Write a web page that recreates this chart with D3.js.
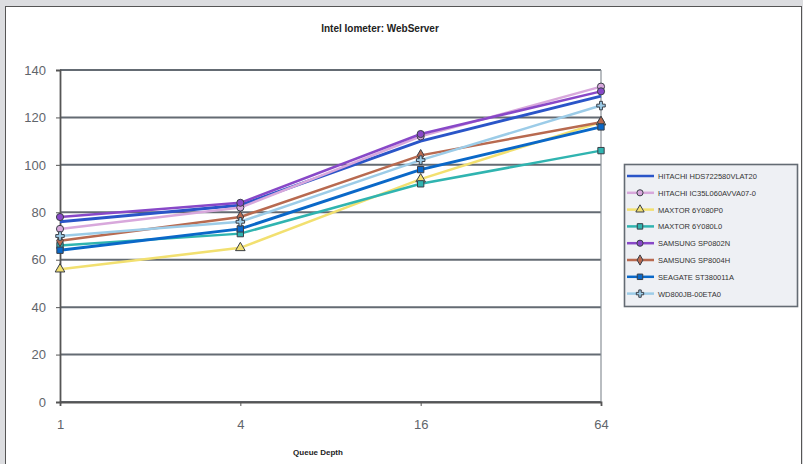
<!DOCTYPE html>
<html>
<head>
<meta charset="utf-8">
<script src="https://cdn.jsdelivr.net/npm/d3@7"></script>
<style>
  body { margin: 0; background: #dcdde0; }
  svg { display: block; font-family: Arial, "Liberation Sans", sans-serif; }
</style>
</head>
<body>
<script>
width = 803
height = 464

// queue depths on the x axis
var depths = ["1", "4", "16", "64"];

// series names as in the legend
var names = [
  "HITACHI HDS722580VLAT20",
  "HITACHI IC35L060AVVA07-0",
  "MAXTOR 6Y080P0",
  "MAXTOR 6Y080L0",
  "SAMSUNG SP0802N",
  "SAMSUNG SP8004H",
  "SEAGATE ST380011A",
  "WD800JB-00ETA0"
];

// IOs per second, one array per drive
var hitachiVlat = [76, 83, 110, 129];
var hitachiAvva = [73, 82, 112, 133];
var maxtorP0    = [56, 65, 94, 118];
var maxtorL0    = [66, 71, 92, 106];
var samsungN    = [78, 84, 113, 131];
var samsungH    = [68, 78, 104, 118];
var seagate     = [64, 73, 98, 116];
var wd          = [70, 76, 102, 125];

var yTicks = [0, 20, 40, 60, 80, 100, 120, 140];

var colors = ["#2a55c8", "#d8a8dc", "#f2e070", "#30b4b0", "#8848c8", "#b86a50", "#0a68c8", "#9ccce8"];
var markers = ["none", "circle", "triangle", "square", "circle", "diamond", "square", "cross"];

var series = [hitachiVlat, hitachiAvva, maxtorP0, maxtorL0, samsungN, samsungH, seagate, wd]
  .map((v, i) => ({name: names[i], values: v, color: colors[i], marker: markers[i]}));

const svg = d3.select('body').append('svg')
  .attr('width', width)
  .attr('height', height);

// white panel with dark edge
svg.append('rect')
  .attr('x', 5.5).attr('y', 6.5)
  .attr('width', 796).attr('height', 470)
  .attr('fill', '#fff')
  .attr('stroke', '#555').attr('stroke-width', 1);

var x = d3.scalePoint().domain(depths).range([60, 601]);
var y = d3.scaleLinear().domain([0, 140]).range([402, 70]);

// gridlines
svg.append('g')
  .selectAll('line')
  .data(yTicks)
  .enter().append('line')
    .attr('x1', 60).attr('x2', 601)
    .attr('y1', d => y(d)).attr('y2', d => y(d))
    .attr('stroke', '#646b73').attr('stroke-width', 2);

// right border of plot
svg.append('line')
  .attr('x1', 601).attr('x2', 601)
  .attr('y1', y(140)).attr('y2', y(0))
  .attr('stroke', '#8a9198').attr('stroke-width', 1.2);

// y axis
const yAxis = svg.append('g')
  .attr('transform', 'translate(60,0)')
  .call(d3.axisLeft(y).tickValues(yTicks).tickSize(4).tickPadding(10));
yAxis.select('.domain').attr('stroke', '#555').attr('stroke-width', 1.8);
yAxis.selectAll('.tick line').attr('stroke', '#555');
yAxis.selectAll('text').attr('font-size', 13).attr('fill', '#5f656b');

// x axis
const xAxis = svg.append('g')
  .attr('transform', 'translate(0,' + y(0) + ')')
  .call(d3.axisBottom(x).tickSize(4).tickPadding(14));
xAxis.select('.domain').attr('stroke', '#555').attr('stroke-width', 1.8);
xAxis.selectAll('.tick line').attr('stroke', '#555');
xAxis.selectAll('text').attr('font-size', 13).attr('fill', '#5f656b');

// titles
svg.append('text')
  .attr('x', 380).attr('y', 32)
  .attr('text-anchor', 'middle')
  .attr('font-size', 10).attr('font-weight', 'bold')
  .attr('fill', '#222')
  .text('Intel Iometer: WebServer');

svg.append('text')
  .attr('x', 318).attr('y', 455)
  .attr('text-anchor', 'middle')
  .attr('font-size', 8).attr('font-weight', 'bold')
  .attr('fill', '#222')
  .text('Queue Depth');

function drawMarker(g, type, color, size) {
  if (type === 'none') return;
  var sym = {circle: d3.symbolCircle, triangle: d3.symbolTriangle, square: d3.symbolSquare,
             diamond: d3.symbolDiamond, cross: d3.symbolCross}[type];
  g.append('path')
    .attr('d', d3.symbol().type(sym).size(size))
    .attr('fill', color)
    .attr('stroke', '#3a3f48')
    .attr('stroke-width', 1);
}

var line = d3.line()
  .x((d, i) => x(depths[i]))
  .y(d => y(d));

const lines = svg.append('g');
series.forEach(s => {
  lines.append('path')
    .datum(s.values)
    .attr('d', line)
    .attr('fill', 'none')
    .attr('stroke', s.color)
    .attr('stroke-width', s.name.startsWith('SEAGATE') || s.name.startsWith('HITACHI HDS') ? 3 : 2.5);
});
series.forEach(s => {
  s.values.forEach((v, i) => {
    const g = lines.append('g').attr('transform', 'translate(' + x(depths[i]) + ',' + y(v) + ')');
    drawMarker(g, s.marker, s.color, 40);
  });
});

// legend
const legend = svg.append('g').attr('transform', 'translate(624,164)');
legend.append('rect')
  .attr('x', 0.5).attr('y', 0.5)
  .attr('width', 173).attr('height', 142)
  .attr('fill', '#eef0f4')
  .attr('stroke', '#646b73').attr('stroke-width', 1.6);

const item = legend.selectAll('g.item')
  .data(series)
  .enter().append('g')
    .attr('class', 'item')
    .attr('transform', (d, i) => 'translate(0,' + (12 + i * 16.8) + ')');

item.append('line')
  .attr('x1', 3).attr('x2', 30)
  .attr('stroke', d => d.color)
  .attr('stroke-width', 2.5);
item.each(function(d) {
  const g = d3.select(this).append('g').attr('transform', 'translate(16,0)');
  drawMarker(g, d.marker, d.color, 30);
});
item.append('text')
  .attr('x', 34).attr('y', 3)
  .attr('font-size', 7.5)
  .attr('fill', '#333')
  .text(d => d.name);
</script>
</body>
</html>
